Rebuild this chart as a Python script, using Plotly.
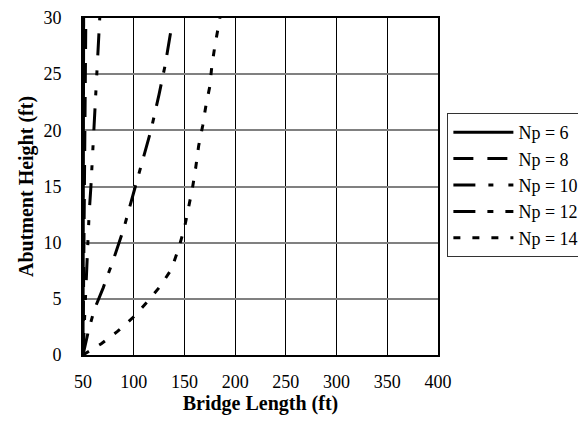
import plotly.graph_objects as go

# ---- data ----
np6_x = [50, 50.2, 50.4, 50.6]
np6_y = [0, 10, 20, 30]

np8_x = [50, 50.8, 51.5, 52.2, 52.8]
np8_y = [0, 7.5, 15, 22.5, 30]

np10_x = [50, 51.2, 52.3, 53.4, 54.5, 56.0, 57.8, 59.3, 60.7, 62.0, 63.3, 64.8, 66.5]
np10_y = [0, 2.5, 5, 7.5, 10, 12.5, 15, 17.5, 20, 22.5, 25, 27.5, 30]

np12_x = [50, 55, 61, 70, 80, 90, 101, 109, 117, 125, 131, 136, 137.5]
np12_y = [0, 2.0, 4.0, 6.0, 8.5, 11.2, 14.8, 17.5, 20.0, 23.2, 25.8, 28.5, 29.3]

np14_x = [50, 68, 84, 100, 114, 126, 137, 144, 150, 154, 158, 161, 164, 168, 171, 175, 177, 180, 183.5, 185]
np14_y = [0, 1.0, 2.1, 3.4, 4.8, 6.1, 7.6, 9.4, 11.3, 13.1, 14.9, 16.6, 18.6, 20.4, 22.1, 23.9, 25.7, 27.5, 29.4, 30]

series_names = ["Np = 6", "Np = 8", "Np = 10", "Np = 12", "Np = 14"]
x_ticks = [50, 100, 150, 200, 250, 300, 350, 400]
y_ticks = [0, 5, 10, 15, 20, 25, 30]

FONT = "Liberation Serif, Times New Roman, serif"

styles = [
    "solid",
    "20px,14px",
    "22px,13px,5px,15px,5px,15px",
    "22px,12px,6px,12px",
    "7px,12px",
]

data = [
    (np6_x, np6_y),
    (np8_x, np8_y),
    (np10_x, np10_y),
    (np12_x, np12_y),
    (np14_x, np14_y),
]

fig = go.Figure()
for (xs, ys), name, dash in zip(data, series_names, styles):
    fig.add_trace(go.Scatter(
        x=xs, y=ys, mode="lines", name=name,
        line=dict(color="black", width=3, dash=dash),
    ))

L, R, T, B = 75, 442, 10, 347
fig.update_layout(
    template="none",
    width=586, height=421,
    margin=dict(l=L, r=586 - R, t=T, b=421 - B, pad=0),
    paper_bgcolor="white",
    plot_bgcolor="white",
    font=dict(family=FONT, size=18, color="black"),
    showlegend=True,
    legend=dict(
        x=(451.7 - L) / (R - L), xanchor="left",
        y=(B - 105) / (B - T), yanchor="top",
        bordercolor="#333333", borderwidth=1,
        bgcolor="white",
        font=dict(family=FONT, size=18, color="black"),
        itemwidth=60,
    ),
)

fig.update_xaxes(
    range=[50, 400], tickmode="array", tickvals=x_ticks,
    showgrid=True, gridcolor="black", gridwidth=1,
    showline=True, linecolor="black", linewidth=2, mirror=True,
    zeroline=False, ticks="", ticklabelstandoff=9,
    tickfont=dict(family=FONT, size=18, color="black"),
    title=dict(text="<b>Bridge Length (ft)</b>", font=dict(family=FONT, size=20, color="black"), standoff=5),
)
fig.update_yaxes(
    range=[0, 30], tickmode="array", tickvals=y_ticks,
    showgrid=True, gridcolor="#808080", gridwidth=1.5,
    showline=True, linecolor="black", linewidth=2, mirror=True,
    zeroline=False, ticks="", ticklabelstandoff=16,
    tickfont=dict(family=FONT, size=18, color="black"),
    title=dict(text="<b>Abutment Height (ft)</b>", font=dict(family=FONT, size=20, color="black"), standoff=4),
)

fig.write_html("out.html")
